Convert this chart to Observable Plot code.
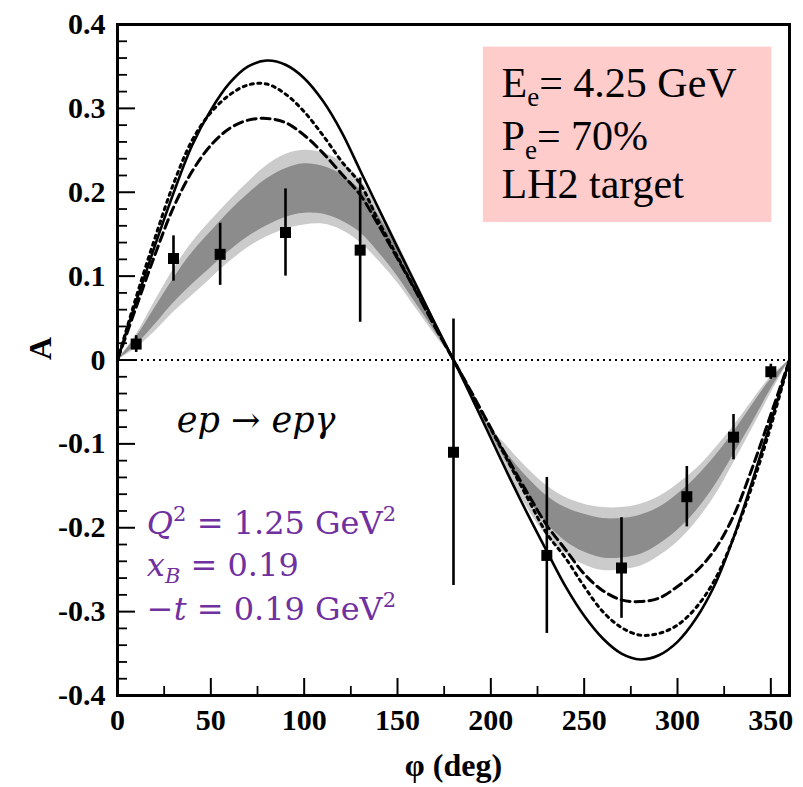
<!DOCTYPE html>
<html><head><meta charset="utf-8">
<script src="https://cdn.jsdelivr.net/npm/d3@7"></script>
<script src="https://cdn.jsdelivr.net/npm/@observablehq/plot@0.6"></script>
<style>body{margin:0;background:#fff}</style>
</head><body><div id="chart"></div>
<script>
const phiGrid = [0,10,20,30,40,50,60,70,80,90,100,110,120,130,140,150,160,170,180,190,200,210,220,230,240,250,260,270,280,290,300,310,320,330,340,350,360];
const solidA  = [0,0.070,0.136,0.199,0.256,0.298,0.330,0.350,0.357,0.352,0.336,0.309,0.272,0.226,0.180,0.134,0.089,0.044,0,-0.046,-0.093,-0.140,-0.185,-0.228,-0.270,-0.305,-0.332,-0.350,-0.357,-0.352,-0.336,-0.308,-0.268,-0.212,-0.145,-0.074,0];
const dottedA = [0,0.075,0.145,0.210,0.262,0.295,0.316,0.328,0.329,0.317,0.296,0.268,0.237,0.210,0.165,0.123,0.082,0.041,0,-0.041,-0.082,-0.124,-0.166,-0.207,-0.236,-0.270,-0.300,-0.319,-0.328,-0.326,-0.316,-0.295,-0.262,-0.212,-0.150,-0.079,0];
const dashedA = [0,0.063,0.125,0.182,0.225,0.256,0.276,0.286,0.288,0.283,0.268,0.247,0.222,0.197,0.160,0.121,0.081,0.040,0,-0.040,-0.081,-0.121,-0.160,-0.197,-0.226,-0.255,-0.275,-0.286,-0.288,-0.284,-0.270,-0.252,-0.226,-0.186,-0.129,-0.065,0];
// ---- uncertainty band edges (top to bottom) ----
const bandB1 = [0,0.030,0.070,0.108,0.140,0.166,0.190,0.212,0.232,0.245,0.250,0.247,0.236,0.215,0.182,0.140,0.094,0.047,0,-0.040,-0.080,-0.106,-0.130,-0.150,-0.164,-0.172,-0.176,-0.176,-0.172,-0.163,-0.148,-0.130,-0.106,-0.079,-0.049,-0.020,0];
const bandB2 = [0,0.027,0.062,0.097,0.128,0.153,0.177,0.198,0.216,0.228,0.234,0.231,0.221,0.203,0.172,0.132,0.088,0.044,0,-0.042,-0.084,-0.115,-0.141,-0.162,-0.176,-0.184,-0.189,-0.189,-0.185,-0.176,-0.160,-0.140,-0.115,-0.086,-0.054,-0.023,0];
const bandB3 = [0,0.018,0.042,0.068,0.090,0.110,0.130,0.147,0.160,0.170,0.175,0.174,0.166,0.152,0.128,0.100,0.067,0.034,0,-0.044,-0.088,-0.128,-0.165,-0.195,-0.216,-0.229,-0.236,-0.236,-0.232,-0.220,-0.203,-0.180,-0.150,-0.113,-0.075,-0.035,0];
const bandB4 = [0,0.014,0.034,0.057,0.077,0.097,0.117,0.134,0.147,0.156,0.161,0.162,0.155,0.140,0.118,0.092,0.061,0.030,0,-0.047,-0.094,-0.138,-0.178,-0.210,-0.231,-0.244,-0.251,-0.250,-0.246,-0.234,-0.217,-0.193,-0.162,-0.123,-0.082,-0.040,0];
// ---- data points ----
const phiData = [10,30,55,90,130,180,230,270,305,330,350];
const aData   = [0.019,0.121,0.126,0.152,0.131,-0.110,-0.233,-0.248,-0.163,-0.092,-0.014];
const errData = [0.010,0.027,0.037,0.052,0.086,0.159,0.093,0.060,0.036,0.027,0.009];
// ---- ticks ----
const xTicks = [0,50,100,150,200,250,300,350];
const xMinor = [25,75,125,175,225,275,325];
const yTicks = [-0.4,-0.3,-0.2,-0.1,0,0.1,0.2,0.3,0.4];
const yMinor = d3.range(-20,21).filter(i => i % 5 !== 0).map(i => i / 50);

const curves = phiGrid.map((p,i) => ({phi:p, solid:solidA[i], dotted:dottedA[i], dashed:dashedA[i], b1:bandB1[i], b2:bandB2[i], b3:bandB3[i], b4:bandB4[i]}));
const points = phiData.map((p,i) => ({phi:p, a:aData[i], e:errData[i]}));

const W = 803, H = 787, ML = 117, MR = 14, MT = 24, MB = 92;
const PW = W - ML - MR, PH = H - MT - MB;
const infoBox = {x1:196, x2:350.5, y1:0.164, y2:0.373};
const SERIF = "Liberation Serif";

const chart = Plot.plot({
  width: W, height: H,
  marginLeft: ML, marginRight: MR, marginTop: MT, marginBottom: MB,
  x: {domain:[0,360], label:null},
  y: {domain:[-0.4,0.4], label:null},
  style: {fontFamily:SERIF, background:"#fff", color:"#000"},
  marks: [
    Plot.rect([infoBox], {x1:"x1", x2:"x2", y1:"y1", y2:"y2", fill:"#ffcccc"}),
    Plot.areaY(curves, {x:"phi", y1:"b4", y2:"b1", fill:"#cbcbcb", curve:"catmull-rom"}),
    Plot.areaY(curves, {x:"phi", y1:"b3", y2:"b2", fill:"#8c8c8c", curve:"catmull-rom"}),
    Plot.ruleY([0], {stroke:"#000", strokeWidth:2, strokeDasharray:"2,4"}),
    Plot.line(curves, {x:"phi", y:"solid", stroke:"#000", strokeWidth:2.6, curve:"catmull-rom"}),
    Plot.line(curves, {x:"phi", y:"dotted", stroke:"#000", strokeWidth:3, strokeDasharray:"3,4.5", curve:"catmull-rom"}),
    Plot.line(curves, {x:"phi", y:"dashed", stroke:"#000", strokeWidth:3, strokeDasharray:"9,5", curve:"catmull-rom"}),
    Plot.ruleX(points, {x:"phi", y1:d => d.a - d.e, y2:d => d.a + d.e, stroke:"#000", strokeWidth:2.6}),
    Plot.dot(points, {x:"phi", y:"a", symbol:"square", r:6.2, fill:"#000"}),
    Plot.frame({stroke:"#000", strokeWidth:3}),
    Plot.tickY(yTicks, {y:d => d, insetRight: PW - 18, stroke:"#000", strokeWidth:2}),
    Plot.tickY(yMinor, {y:d => d, insetRight: PW - 10, stroke:"#000", strokeWidth:1.8}),
    Plot.tickX(xTicks, {x:d => d, insetTop: PH - 17, stroke:"#000", strokeWidth:2}),
    Plot.tickX(xMinor, {x:d => d, insetTop: PH - 9, stroke:"#000", strokeWidth:1.8}),
    Plot.axisY({ticks:yTicks, tickSize:0, tickPadding:12, tickFormat:d => d === 0 ? "0" : String(d), fontFamily:SERIF, fontSize:30, fontWeight:"bold", label:null}),
    Plot.axisX({ticks:xTicks, tickSize:0, tickPadding:13, fontFamily:SERIF, fontSize:30, fontWeight:"bold", label:null}),
    Plot.text(["\u03c6 (deg)"], {frameAnchor:"bottom", dy:70, fontFamily:SERIF, fontSize:32, fontWeight:"bold", lineAnchor:"middle"}),
    Plot.text(["A"], {frameAnchor:"left", dx:-77, rotate:-90, fontFamily:SERIF, fontSize:32, fontWeight:"bold", lineAnchor:"middle"})
  ]
});
document.getElementById("chart").appendChild(chart);

// ---- rich-text annotations (subscripts / superscripts) ----
const xs = chart.scale("x"), ys = chart.scale("y");
const svg = d3.select(chart);
function addText(px, py, parts, attrs) {
  const t = svg.append("text").attr("x", xs.apply(px)).attr("y", ys.apply(py)).attr("text-anchor", "start");
  Object.entries(attrs).forEach(([k,v]) => t.attr(k, v));
  parts.forEach(p => {
    const s = t.append("tspan").text(p.t);
    if (p.dy) s.attr("dy", p.dy);
    if (p.fs) s.attr("font-size", p.fs);
    if (p.it) s.attr("font-style", "italic");
  });
}
const boxFont = {"font-family":SERIF, "font-size":42, fill:"#000"};
addText(206, 0.313, [{t:"E"},{t:"e", fs:27, dy:9},{t:"= 4.25 GeV", dy:-9}], boxFont);
addText(206, 0.250, [{t:"P"},{t:"e", fs:27, dy:9},{t:"= 70%", dy:-9}], boxFont);
addText(206, 0.193, [{t:"LH2 target"}], boxFont);

addText(32, -0.087, [{t:"ep \u2192 ep\u03b3"}], {"font-family":"DejaVu Serif", "font-style":"italic", "font-size":35, fill:"#000"});

const purple = {"font-family":"DejaVu Serif", "font-size":32, fill:"#7030a0"};
addText(16, -0.208, [{t:"Q", it:true},{t:"2", fs:21, dy:-13},{t:" = 1.25 GeV", dy:13},{t:"2", fs:21, dy:-13}], purple);
addText(16, -0.258, [{t:"x", it:true},{t:"B", it:true, fs:21, dy:7},{t:" = 0.19", dy:-7}], purple);
addText(16, -0.310, [{t:"\u2212"},{t:"t", it:true},{t:" = 0.19 GeV"},{t:"2", fs:21, dy:-13}], purple);
</script>
</body></html>
